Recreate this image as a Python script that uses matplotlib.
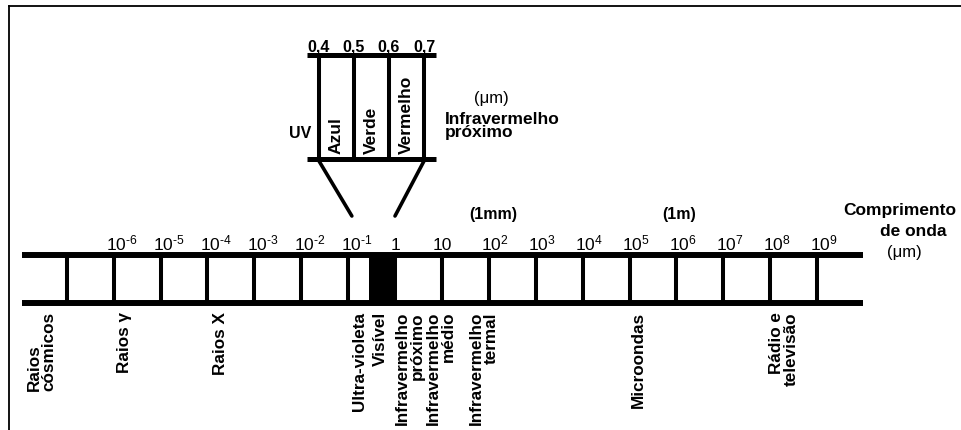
import matplotlib
matplotlib.use("Agg")
import matplotlib.pyplot as plt
from matplotlib.patches import ConnectionPatch, Rectangle
from matplotlib.lines import Line2D

plt.rcParams['font.family'] = ['Liberation Sans', 'DejaVu Sans']
plt.rcParams['mathtext.fontset'] = 'custom'
plt.rcParams['mathtext.rm'] = 'Liberation Sans'
plt.rcParams['mathtext.it'] = 'Liberation Sans:italic'
plt.rcParams['mathtext.bf'] = 'Liberation Sans:bold'

# ---------------- data ----------------
# main scale: log10 of wavelength in micrometres
grid_exponents = list(range(-7, 10))
label_exponents = list(range(-6, 10))
tick_labels = [r'$10^{\text{-}6}$', r'$10^{\text{-}5}$', r'$10^{\text{-}4}$', r'$10^{\text{-}3}$',
               r'$10^{\text{-}2}$', r'$10^{\text{-}1}$', '1', '10', r'$10^{2}$', r'$10^{3}$',
               r'$10^{4}$', r'$10^{5}$', r'$10^{6}$', r'$10^{7}$', r'$10^{8}$', r'$10^{9}$']
visible_band = (-0.55, 0.0)          # filled block (log10 μm)
zoom_target = (-0.92, 0.0)           # where the magnifier lines meet the scale

band_names = ['Raios\ncósmicos', 'Raios γ', 'Raios X', 'Ultra-violeta', 'Visível',
              'Infravermelho\npróximo', 'Infravermelho\nmédio', 'Infravermelho\ntermal',
              'Microondas', 'Rádio e\ntelevisão']
band_centres = [-7.53, -5.76, -3.73, -0.75, -0.32, 0.32, 0.98, 1.90, 5.18, 8.29]

unit_marks = ['(1mm)', '(1m)']
unit_mark_positions = [2.1, 6.05]

# visible detail (μm)
vis_ticks = [0.4, 0.5, 0.6, 0.7]
vis_tick_labels = ['0,4', '0,5', '0,6', '0,7']
vis_colours = ['Azul', 'Verde', 'Vermelho']

# ---------------- layout ----------------
W, H = 961, 430
PX_PER_DECADE = 46.9
X_ONE = 395.0           # pixel position of 1 μm
PX_PER_UM = 350.0
X_04 = 319.0            # pixel position of 0.4 μm

fig = plt.figure(figsize=(W / 100, H / 100), dpi=100)
ax = fig.add_axes([0, 0, 1, 1])
ax.set_xlim(-X_ONE / PX_PER_DECADE, (W - X_ONE) / PX_PER_DECADE)
ax.set_ylim(H, 0)
ax.axis('off')

ax_in = fig.add_axes([0, 0, 1, 1])
ax_in.set_xlim(0.4 - X_04 / PX_PER_UM, 0.4 + (W - X_04) / PX_PER_UM)
ax_in.set_ylim(H, 0)
ax_in.axis('off')
ax_in.patch.set_visible(False)

# frame (top and left)
fig.add_artist(Line2D([9 / W, 1], [1 - 6 / H, 1 - 6 / H], color='black', lw=1.3))
fig.add_artist(Line2D([9 / W, 9 / W], [0, 1 - 6 / H], color='black', lw=1.3))

# main scale
Y_TOP, Y_BOT = 255, 303
x_start, x_end = -7.95, 9.98
for y in (Y_TOP, Y_BOT):
    ax.plot([x_start, x_end], [y, y], color='black', lw=4.3, solid_capstyle='butt')
for e in grid_exponents:
    ax.plot([e, e], [Y_TOP, Y_BOT], color='black', lw=2.9, solid_capstyle='butt')
ax.add_patch(Rectangle((visible_band[0], Y_TOP), visible_band[1] - visible_band[0],
                       Y_BOT - Y_TOP, color='black', lw=0))

for e, lab in zip(label_exponents, tick_labels):
    if lab.startswith('$'):
        ax.text(e - 0.16, 250.5, lab, ha='left', va='baseline', fontsize=12.5)
    else:
        ax.text(e, 250.5, lab, ha='center', va='baseline', fontsize=12.5)

for name, c in zip(band_names, band_centres):
    ma = 'left' if name.startswith('Raios\n') else 'right'
    ax.text(c, 312, name, rotation=90, ha='center', va='top', fontsize=12.3,
            fontweight='bold', multialignment=ma, linespacing=0.98)

for lab, p in zip(unit_marks, unit_mark_positions):
    ax.text(p, 215, lab, ha='center', va='center', fontsize=11.5, fontweight='bold')

xr = lambda px: (px - X_ONE) / PX_PER_DECADE
ax.text(xr(900), 210, 'Comprimento', ha='center', va='center', fontsize=12.5, fontweight='bold')
ax.text(xr(913), 232, 'de onda', ha='center', va='center', fontsize=12.5, fontweight='bold')
ax.text(xr(904), 253, '(μm)', ha='center', va='center', fontsize=12)

# visible detail
IY_TOP, IY_BOT = 55, 159
pad = 12 / PX_PER_UM
for y in (IY_TOP, IY_BOT):
    ax_in.plot([vis_ticks[0] - pad, vis_ticks[-1] + pad], [y, y], color='black', lw=3.6,
               solid_capstyle='butt')
for v, lab in zip(vis_ticks, vis_tick_labels):
    ax_in.plot([v, v], [IY_TOP, IY_BOT], color='black', lw=2.9, solid_capstyle='butt')
    ax_in.text(v, 51.5, lab, ha='center', va='baseline', fontsize=11.5, fontweight='bold')
for i, lab in enumerate(vis_colours):
    c = (vis_ticks[i] + vis_ticks[i + 1]) / 2
    ax_in.text(c, 154, lab, rotation=90, ha='center', va='bottom', fontsize=12.5,
               fontweight='bold')

ax_in.text(vis_ticks[0] - 0.055, 133, 'UV', ha='center', va='center', fontsize=11.5,
           fontweight='bold')
ax_in.text(0.4 + (491 - X_04) / PX_PER_UM, 98, '(μm)', ha='center', va='center', fontsize=12)
ax_in.text(0.4 + (445 - X_04) / PX_PER_UM, 126, 'Infravermelho\npróximo', ha='left',
           va='center', fontsize=12.5, fontweight='bold', linespacing=0.85)

# magnifier lines
for v, e in zip((vis_ticks[0], vis_ticks[-1]), zoom_target):
    con = ConnectionPatch(xyA=(v, 161), coordsA=ax_in.transData,
                          xyB=(e, 216), coordsB=ax.transData,
                          color='black', lw=2.6)
    fig.add_artist(con)

fig.savefig('out.png', dpi=100)
